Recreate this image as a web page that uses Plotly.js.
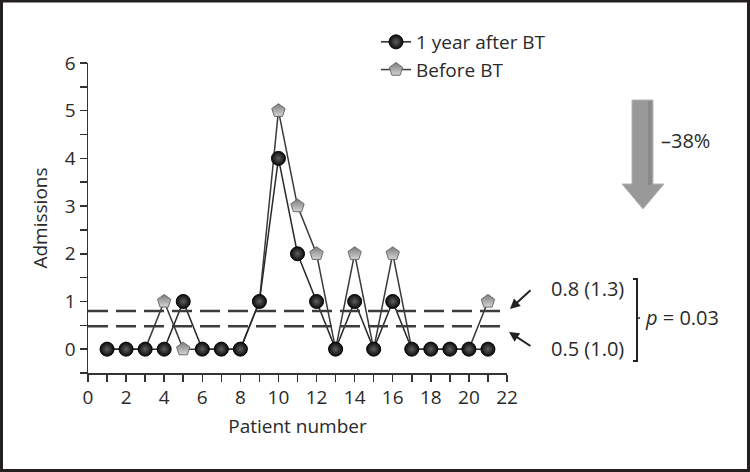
<!DOCTYPE html>
<html>
<head>
<meta charset="utf-8">
<script src="https://cdn.plot.ly/plotly-3.0.1.min.js"></script>
<style>
html,body{margin:0;padding:0;background:#fff;}
#chart{width:750px;height:472px;}
</style>
</head>
<body>
<div id="chart"></div>
<script>
// ---- data ----
const patients = [1,2,3,4,5,6,7,8,9,10,11,12,13,14,15,16,17,18,19,20,21];
const afterBT  = [0,0,0,0,1,0,0,0,1,4,2,1,0,1,0,1,0,0,0,0,0];
const beforeBT = [0,0,0,1,0,0,0,0,1,5,3,2,0,2,0,2,0,0,0,0,1];
const meanBefore = 0.8;
const meanAfter = 0.48;
const seriesNames = ["1 year after BT", "Before BT"];
const meanLabels = ["0.8 (1.3)", "0.5 (1.0)"];
const changeLabel = "–38%";
const pLabel = "<i>p</i> = 0.03";
const xTitle = "Patient number";
const yTitle = "Admissions";

// ---- layout helpers (pixel -> paper) ----
const W = 750, H = 472, L = 88, R = 243, T = 63, B = 99;
const PW = W - L - R, PH = H - T - B;
const px = x => (x - L) / PW;
const py = y => (H - B - y) / PH;

const FONT = "Open Sans, Noto Sans, sans-serif";
const TXT = "#2a2a2a";

const traceBefore = {
  x: patients, y: beforeBT, name: seriesNames[1],
  type: "scatter", mode: "lines+markers",
  legendgroup: "b", legendrank: 2,
  line: {color: "#3a3a3a", width: 1.5},
  marker: {symbol: "pentagon", size: 14, color: "#7c7c7c",
           gradient: {type: "vertical", color: "#d4d4d4"},
           line: {color: "#6a6a6a", width: 1}}
};
const traceAfter = {
  x: patients, y: afterBT, name: seriesNames[0],
  type: "scatter", mode: "lines+markers",
  legendgroup: "a", legendrank: 1,
  line: {color: "#2a2a2a", width: 1.5},
  marker: {symbol: "circle", size: 14, color: "#0c0c0c",
           gradient: {type: "radial", color: "#5e5e5e"},
           line: {color: "#000", width: 1}}
};

const shapes = [
  {type: "line", xref: "x", yref: "y", x0: 0, x1: 22, y0: meanBefore, y1: meanBefore,
   line: {color: "#3c3c3c", width: 2.5, dash: "20px,8px"}},
  {type: "line", xref: "x", yref: "y", x0: 0, x1: 22, y0: meanAfter, y1: meanAfter,
   line: {color: "#3c3c3c", width: 2.5, dash: "20px,8px"}},
  // big down arrow
  {type: "path", xref: "paper", yref: "paper",
   path: `M${px(632)},${py(100)} L${px(653)},${py(100)} L${px(653)},${py(184)} L${px(664)},${py(184)} L${px(643)},${py(209)} L${px(622)},${py(184)} L${px(632)},${py(184)} Z`,
   fillcolor: "#999999", line: {color: "#b4b4b4", width: 1}},
  {type: "path", xref: "paper", yref: "paper",
   path: `M${px(648)},${py(101)} L${px(652)},${py(101)} L${px(652)},${py(185)} L${px(648)},${py(185)} Z`,
   fillcolor: "#8a8a8a", line: {width: 0}},
  // bracket
  {type: "path", xref: "paper", yref: "paper",
   path: `M${px(633)},${py(279)} L${px(637)},${py(279)} L${px(637)},${py(361)} L${px(633)},${py(361)}`,
   line: {color: "#222", width: 2}},
  {type: "line", xref: "paper", yref: "paper", x0: px(637), x1: px(640), y0: py(318), y1: py(318),
   line: {color: "#222", width: 1.5}},
  // outer frame
  {type: "rect", xref: "paper", yref: "paper",
   x0: px(1.5), x1: px(748.5), y0: py(1), y1: py(470.5),
   line: {color: "#231f20", width: 3}, fillcolor: "rgba(0,0,0,0)"}
];

const annotations = [
  {xref: "paper", yref: "paper", x: px(659), y: py(140), xanchor: "left", yanchor: "middle",
   text: changeLabel, showarrow: false, font: {size: 20, color: TXT, family: FONT}},
  {xref: "paper", yref: "paper", x: px(549), y: py(288), xanchor: "left", yanchor: "middle",
   text: meanLabels[0], showarrow: false, font: {size: 20, color: TXT, family: FONT}},
  {xref: "paper", yref: "paper", x: px(549), y: py(348), xanchor: "left", yanchor: "middle",
   text: meanLabels[1], showarrow: false, font: {size: 20, color: TXT, family: FONT}},
  {xref: "paper", yref: "paper", x: px(643), y: py(317), xanchor: "left", yanchor: "middle",
   text: pLabel, showarrow: false, font: {size: 20, color: TXT, family: FONT}},
  {xref: "paper", yref: "paper", x: px(510), y: py(309), text: "", showarrow: true,
   ax: 22, ay: -20, arrowhead: 2, arrowsize: 1, arrowwidth: 2, arrowcolor: "#222"},
  {xref: "paper", yref: "paper", x: px(509), y: py(332), text: "", showarrow: true,
   ax: 23, ay: 15, arrowhead: 2, arrowsize: 1, arrowwidth: 2, arrowcolor: "#222"}
];

const layout = {
  width: W, height: H,
  margin: {l: L, r: R, t: T, b: B, pad: 0},
  paper_bgcolor: "#fff", plot_bgcolor: "#fff",
  font: {family: FONT, size: 19, color: TXT},
  showlegend: true,
  legend: {x: px(376), y: py(23), xanchor: "left", yanchor: "top",
           bgcolor: "rgba(0,0,0,0)", font: {size: 19, color: TXT},
           tracegroupgap: 0, traceorder: "grouped"},
  xaxis: {range: [0, 22], tickmode: "linear", tick0: 0, dtick: 2,
          ticks: "outside", ticklen: 7, tickwidth: 1.5, tickcolor: "#333",
          minor: {dtick: 1, ticks: "outside", ticklen: 7, tickwidth: 1.5, tickcolor: "#333", showgrid: false},
          showline: true, linecolor: "#333", linewidth: 1.5,
          showgrid: false, zeroline: false,
          tickfont: {size: 19, color: TXT},
          title: {text: xTitle, font: {size: 19, color: TXT}, standoff: 10}},
  yaxis: {range: [-0.5, 6], tickmode: "linear", tick0: 0, dtick: 1,
          ticks: "outside", ticklen: 7, tickwidth: 1.5, tickcolor: "#333",
          minor: {dtick: 0.5, ticks: "outside", ticklen: 7, tickwidth: 1.5, tickcolor: "#333", showgrid: false},
          showline: true, linecolor: "#333", linewidth: 1.5,
          showgrid: false, zeroline: false,
          tickfont: {size: 19, color: TXT},
          title: {text: yTitle, font: {size: 19, color: TXT}, standoff: 12}},
  shapes: shapes,
  annotations: annotations
};

Plotly.newPlot("chart", [traceBefore, traceAfter], layout, {displayModeBar: false, staticPlot: true});
</script>
</body>
</html>
